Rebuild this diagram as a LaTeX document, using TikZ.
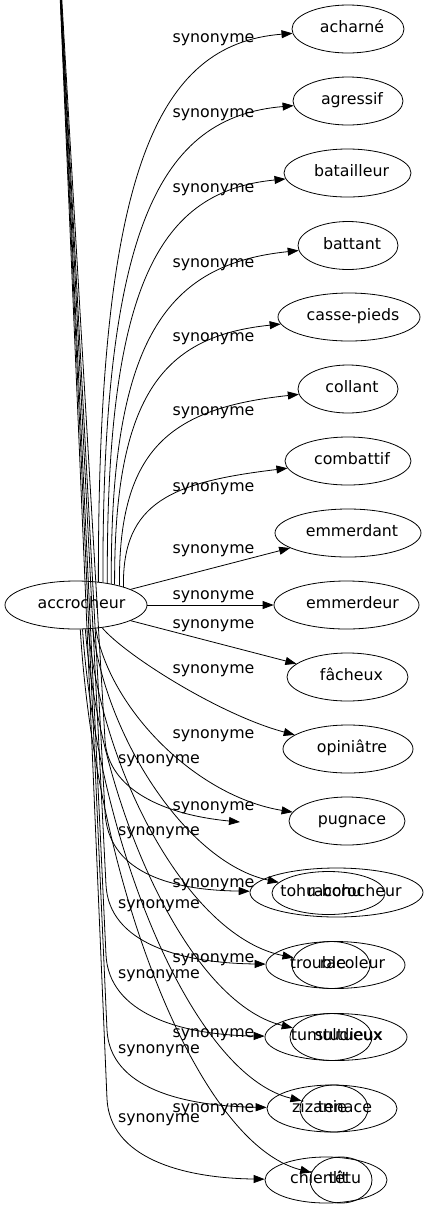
\documentclass[tikz,border=0pt]{standalone}
\usepackage{fontspec}
\setmainfont{DejaVu Sans}
\usetikzlibrary{shapes.geometric,arrows.meta}
\newcommand{\nt}[2]{\makebox[0pt]{\hspace*{#1pt}#2}}
\tikzset{
  ell/.style={draw, ellipse, inner sep=0pt, line width=0.8pt, minimum height=48pt,
    text height=0.95em, text depth=0.19em, font=\fontsize{15.8}{19}\selectfont},
  lbl/.style={inner sep=0pt, anchor=base, font=\fontsize{15.8}{19}\selectfont},
  syn/.style={draw, line width=0.8pt, -{Triangle[length=11pt,width=8pt]}}
}
\begin{document}
\begin{tikzpicture}[x=1pt,y=-1pt]
\useasboundingbox (0,0) rectangle (429,1211);
\clip (0,0) rectangle (429,1211);
% nodes
\node[ell, minimum width=142pt] (acc) at (76,605) {\nt{11}{accrocheur}};
\node[ell, minimum width=112pt] (acharne) at (348,29) {\nt{8}{acharné}};
\node[ell, minimum width=110pt] (agressif) at (348,101) {\nt{8}{agressif}};
\node[ell, minimum width=127pt] (batailleur) at (347.5,173) {\nt{8}{batailleur}};
\node[ell, minimum width=100pt] (battant) at (348,245.5) {\nt{8}{battant}};
\node[ell, minimum width=142pt] (cassepieds) at (349,317) {\nt{8}{casse-pieds}};
\node[ell, minimum width=100pt] (collant) at (348,389) {\nt{8}{collant}};
\node[ell, minimum width=126pt] (combattif) at (348,461) {\nt{8}{combattif}};
\node[ell, minimum width=146pt] (emmerdant) at (348,533) {\nt{8}{emmerdant}};
\node[ell, minimum width=145pt] (emmerdeur) at (346.5,605) {\nt{12}{emmerdeur}};
\node[ell, minimum width=121pt] (facheux) at (347.5,677) {\nt{8}{fâcheux}};
\node[ell, minimum width=130pt] (opiniatre) at (348,749) {\nt{8}{opiniâtre}};
\node[ell, minimum width=116pt] (pugnace) at (347,821) {\nt{10}{pugnace}};
% overlapping rows
\node[ell, minimum width=173pt, minimum height=49pt] (tohubohu) at (336.5,892.5) {\nt{-31}{tohu-bohu}};
\node[ell, minimum width=113pt, minimum height=43pt] (raccrocheur) at (328.5,893) {\nt{52}{raccrocheur}};
\node[ell, minimum width=139pt, minimum height=47pt] (trouble) at (335.5,965) {\nt{-35}{trouble}};
\node[ell, minimum width=78pt, minimum height=47pt] (racoleur) at (331,965) {\nt{43}{racoleur}};
\node[ell, minimum width=142pt, minimum height=47pt] (tumultueux) at (336,1037) {\nt{1}{tumultueux}};
\node[ell, minimum width=82pt, minimum height=47pt] (studieux) at (331,1037) {\nt{36}{studieux}};
\node[ell, minimum width=130pt, minimum height=47pt] (zizanie) at (332,1108.5) {\nt{-25}{zizanie}};
\node[ell, minimum width=68pt, minimum height=47pt] (tenace) at (334,1108.5) {\nt{22}{tenace}};
\node[ell, minimum width=122pt, minimum height=46pt] (chienlit) at (326,1180) {\nt{-14}{chienlit}};
\node[ell, minimum width=62pt, minimum height=46pt] (tetu) at (341,1180) {\nt{8}{têtu}};
\coordinate (src) at (56,-100);
\coordinate (orph) at (240,822);
% edges from accrocheur
\draw[syn] (acc.46) .. controls (98,172) and (156.5,44) .. (acharne);
\draw[syn] (acc.40.7) .. controls (102,227) and (160,117) .. (agressif);
\draw[syn] (acc.35.9) .. controls (106,283) and (160,191) .. (batailleur);
\draw[syn] (acc.31.8) .. controls (110,338) and (167,264) .. (battant);
\draw[syn] (acc.28.1) .. controls (114,392) and (165,336) .. (cassepieds);
\draw[syn] (acc.24.7) .. controls (118,446) and (173,408) .. (collant);
\draw[syn] (acc.21.7) .. controls (122,502) and (172,482) .. (combattif);
\draw[syn] (acc.16) -- (emmerdant);
\draw[syn] (acc) -- (emmerdeur);
\draw[syn] (acc.-16) -- (facheux);
\draw[syn] (acc.-41) .. controls (125,655) and (220,715) .. (opiniatre);
\draw[syn] (acc.-50.6) .. controls (110,709.6) and (196.5,796.4) .. (pugnace);
\draw[syn] (acc.-55.6) .. controls (107,740.5) and (188.5,863) .. (raccrocheur);
\draw[syn] (acc.-63.1) .. controls (103,776.6) and (190.5,937.3) .. (racoleur);
\draw[syn] (acc.-69.3) .. controls (100,808) and (188.5,1003) .. (studieux);
\draw[syn] (acc.-75.9) .. controls (97,842.3) and (192,1074.6) .. (tenace);
\draw[syn] (acc.-80.5) .. controls (95,875) and (194.5,1143) .. (tetu);
% edges from the source above
\draw[syn] (src) -- (105,740) .. controls (108,790) and (165,815) .. (orph);
\draw[syn] (src) -- (105,812) .. controls (108,870) and (165,890) .. (tohubohu);
\draw[syn] (src) -- (106,885) .. controls (109,943) and (180,963) .. (trouble);
\draw[syn] (src) -- (106,955) .. controls (109,1013) and (179,1035) .. (tumultueux);
\draw[syn] (src) -- (107,1030) .. controls (110,1088) and (182,1106) .. (zizanie);
\draw[syn] (src) -- (107,1099) .. controls (110,1157) and (180,1178) .. (chienlit);
% labels
\foreach \yy [count=\i] in {42,117,192,267,341,415,491,553,599,628,673,738,810,887,962,1037,1112}
  \node[lbl] (r\i) at (213.5,\yy) {synonyme};
\foreach \yy [count=\i] in {763,835,908,978,1053,1122}
  \node[lbl] (l\i) at (159,\yy) {synonyme};
\end{tikzpicture}
\end{document}
